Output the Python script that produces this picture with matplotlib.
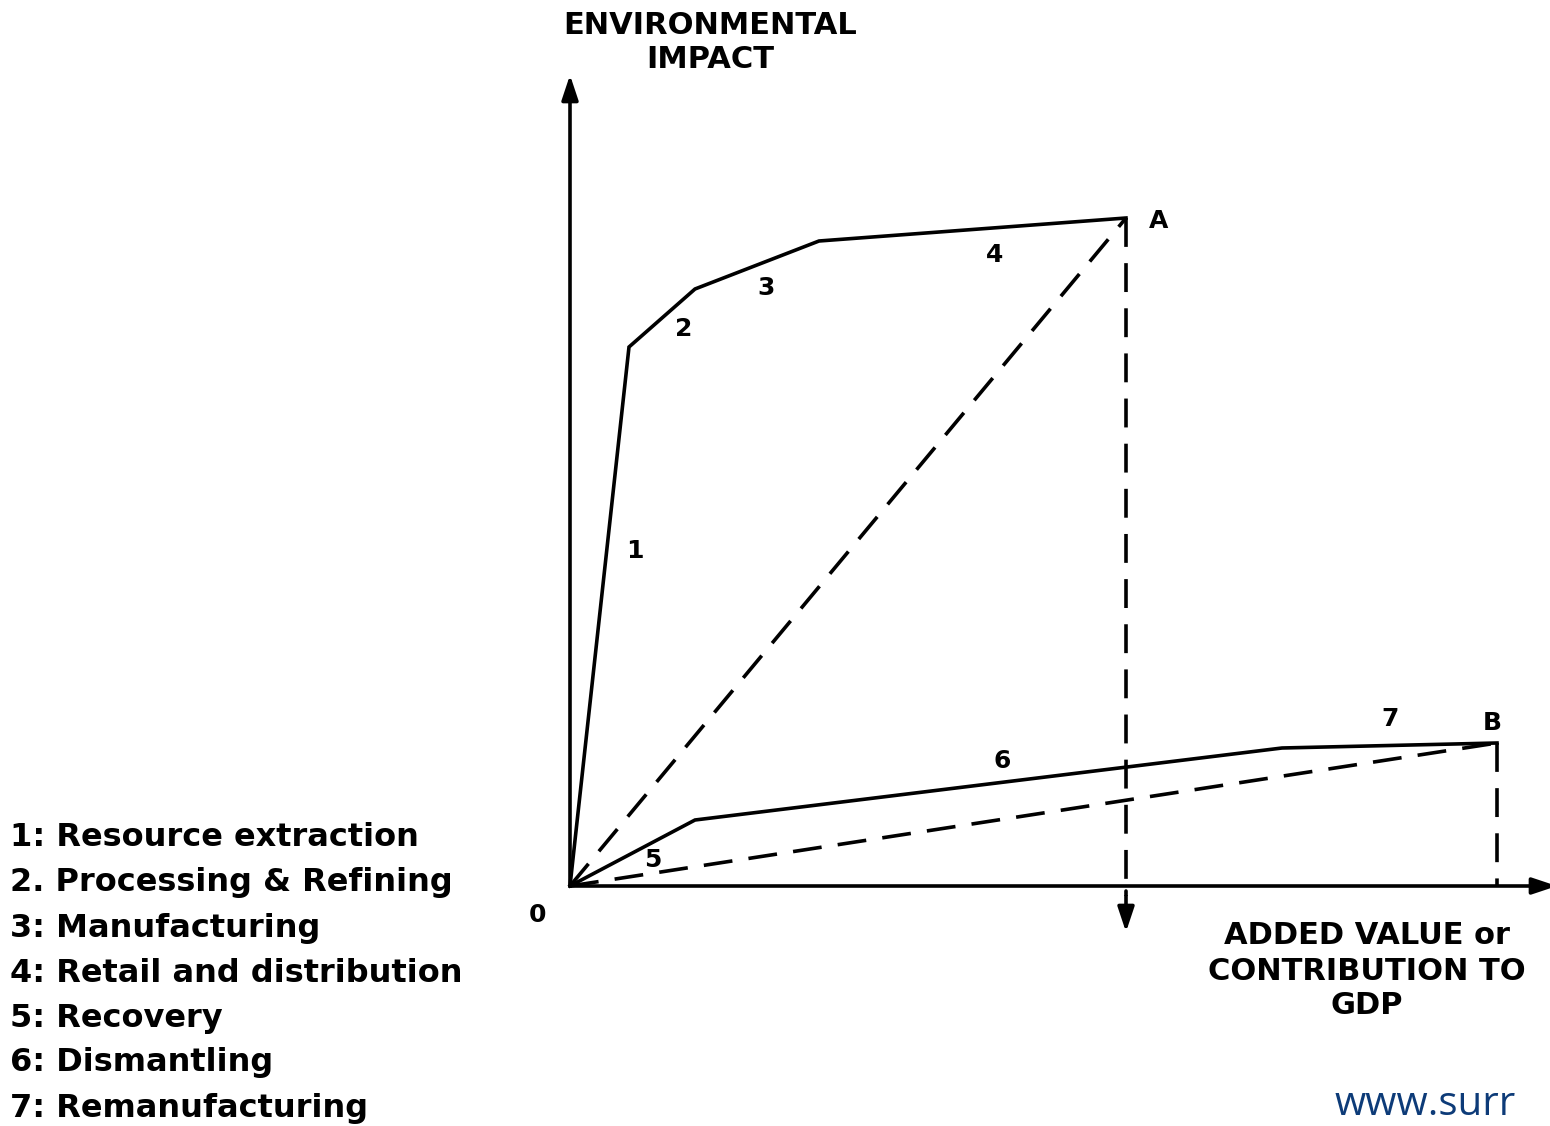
import matplotlib
matplotlib.use("Agg")
import matplotlib.pyplot as plt

# ---- data (units: added value, environmental impact) ----
upper_x = [0, 59, 125, 249, 556]          # linear economy path to A
upper_y = [0, 539, 597, 645, 668]
lower_x = [0, 125, 712, 927]              # circular economy path to B
lower_y = [0, 66, 138, 143]
stage_labels = ["1", "2", "3", "4", "5", "6", "7"]
stage_x = [65, 114, 196, 425, 83, 432, 820]
stage_y = [335, 557, 598, 631, 26, 125, 167]
legend_items = ["1: Resource extraction", "2. Processing & Refining",
                "3: Manufacturing", "4: Retail and distribution",
                "5: Recovery", "6: Dismantling", "7: Remanufacturing"]

plt.rcParams['font.family'] = ['DejaVu Sans']

fig = plt.figure(figsize=(15.5, 11.26), dpi=100)
ax = fig.add_axes([0, 0, 1, 1])
ax.set_xlim(-570, 980)
ax.set_ylim(-240, 886)
ax.axis('off')

lw = 2.6
dash = (0, (8, 4.5))
arrow = dict(arrowstyle="-|>,head_length=1.5,head_width=0.5",
             lw=lw, color="black", shrinkA=0, shrinkB=0)

# axes arrows
ax.annotate("", xy=(0, 811), xytext=(0, 0), arrowprops=arrow, annotation_clip=False)
ax.annotate("", xy=(987, 0), xytext=(0, 0), arrowprops=arrow, annotation_clip=False)

# curves
ax.plot(upper_x, upper_y, color="black", lw=lw, solid_joinstyle="miter")
ax.plot(lower_x, lower_y, color="black", lw=lw, solid_joinstyle="miter")

# dashed chords
ax.plot([0, upper_x[-1]], [0, upper_y[-1]], color="black", lw=lw, linestyle=dash)
ax.plot([0, lower_x[-1]], [0, lower_y[-1]], color="black", lw=lw, linestyle=dash)

# dashed verticals
ax.plot([upper_x[-1], upper_x[-1]], [upper_y[-1], -10], color="black", lw=lw, linestyle=dash)
ax.annotate("", xy=(upper_x[-1], -46), xytext=(upper_x[-1], -5),
            arrowprops=arrow, annotation_clip=False)
ax.plot([lower_x[-1], lower_x[-1]], [lower_y[-1], 0], color="black", lw=lw, linestyle=dash)

num_kw = dict(fontsize=18, fontweight="bold", ha="center", va="center")
# point labels
ax.text(589, 665, "A", **num_kw)
ax.text(922, 163, "B", **num_kw)
ax.text(-33, -29, "0", **num_kw)

for lab, x, y in zip(stage_labels, stage_x, stage_y):
    ax.text(x, y, lab, **num_kw)

# axis titles
ttl_kw = dict(fontsize=22, fontweight="bold", ha="center", va="center")
ax.text(140, 861, "ENVIRONMENTAL", **ttl_kw)
ax.text(140, 827, "IMPACT", **ttl_kw)
ax.text(797, -50, "ADDED VALUE or", **ttl_kw)
ax.text(797, -85, "CONTRIBUTION TO", **ttl_kw)
ax.text(797, -120, "GDP", **ttl_kw)

# legend list
for i, item in enumerate(legend_items):
    ax.text(-560, 48 - i * 45, item, fontsize=23, fontweight="bold",
            ha="left", va="center")

# watermark
ax.text(765, -229, "www.surr", fontsize=29, color="#0d3b78",
        family=["Open Sans", "DejaVu Sans"], ha="left", va="baseline")

fig.savefig("out.png", dpi=100)
